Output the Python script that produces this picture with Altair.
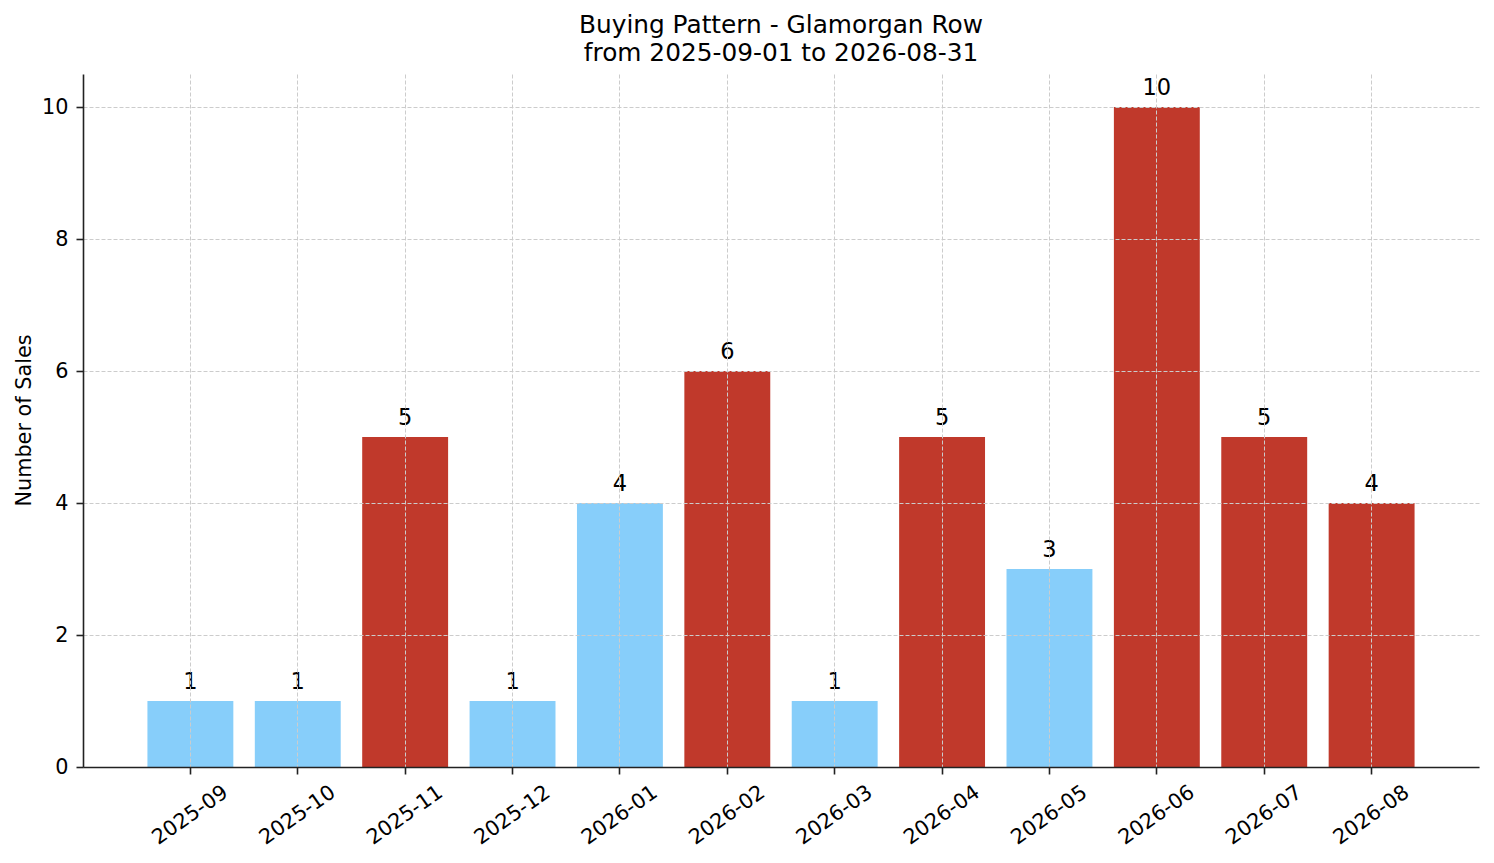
import altair as alt
import pandas as pd

# --- DATA ---
months = ['2025-09', '2025-10', '2025-11', '2025-12', '2026-01', '2026-02',
          '2026-03', '2026-04', '2026-05', '2026-06', '2026-07', '2026-08']
sales = [1, 1, 5, 1, 4, 6, 1, 5, 3, 10, 5, 4]
band = ['low', 'low', 'high', 'low', 'low', 'high',
        'low', 'high', 'low', 'high', 'high', 'high']

df = pd.DataFrame({'month': months, 'sales': sales, 'band': band})

FONT = 'DejaVu Sans'

x_enc = alt.X(
    'month:N',
    sort=months,
    title=None,
    scale=alt.Scale(paddingInner=0.2, paddingOuter=0.6),
    axis=alt.Axis(
        labelAngle=-35,
        labelAlign='center',
        labelBaseline='middle',
        labelPadding=41,
        labelFontSize=20.8,
        labelColor='black',
        tickSize=7,
        tickWidth=1.6,
        tickColor='#222222',
        domainColor='#222222',
        domainWidth=1.6,
        bandPosition=0.5,
        grid=True,
        gridColor='#cccccc',
        gridDash=[4, 2],
        gridWidth=1,
        zindex=1
    )
)

y_enc = alt.Y(
    'sales:Q',
    title='Number of Sales',
    scale=alt.Scale(domain=[0, 10.5], nice=False, zero=True),
    axis=alt.Axis(
        values=[0, 2, 4, 6, 8, 10],
        format='d',
        labelFontSize=20.8,
        labelColor='black',
        labelPadding=8,
        tickSize=7,
        tickWidth=1.6,
        tickColor='#222222',
        domainColor='#222222',
        domainWidth=1.6,
        titleFontSize=20.8,
        titleFontWeight='normal',
        titleColor='black',
        titleX=-59,
        titleY=346,
        titleAlign='center',
        titleBaseline='middle',
        titleAngle=270,
        grid=True,
        gridColor='#cccccc',
        gridDash=[4, 2],
        gridWidth=1,
        zindex=1
    )
)

bars = alt.Chart(df).mark_bar().encode(
    x=x_enc,
    y=y_enc,
    color=alt.Color(
        'band:N',
        scale=alt.Scale(domain=['low', 'high'], range=['#87CEFA', '#C0392B']),
        legend=None
    )
)

labels = alt.Chart(df).mark_text(
    fontSize=22.5, font=FONT, color='black', baseline='alphabetic', dy=-12
).encode(
    x=alt.X('month:N', sort=months),
    y='sales:Q',
    text='sales:Q'
)

chart = (bars + labels).properties(
    width=1396,
    height=693,
    autosize=alt.AutoSizeParams(type='none'),
    padding={'left': 75, 'top': 66, 'right': 7, 'bottom': 88},
    title=alt.TitleParams(
        ['Buying Pattern - Glamorgan Row', 'from 2025-09-01 to 2026-08-31'],
        fontSize=24.8,
        fontWeight='normal',
        font=FONT,
        color='black',
        anchor='middle',
        lineHeight=28,
        offset=8
    )
).configure(
    font=FONT
).configure_view(
    stroke=None
)

chart.save('out.html', embed_options={'renderer': 'svg', 'actions': False})
